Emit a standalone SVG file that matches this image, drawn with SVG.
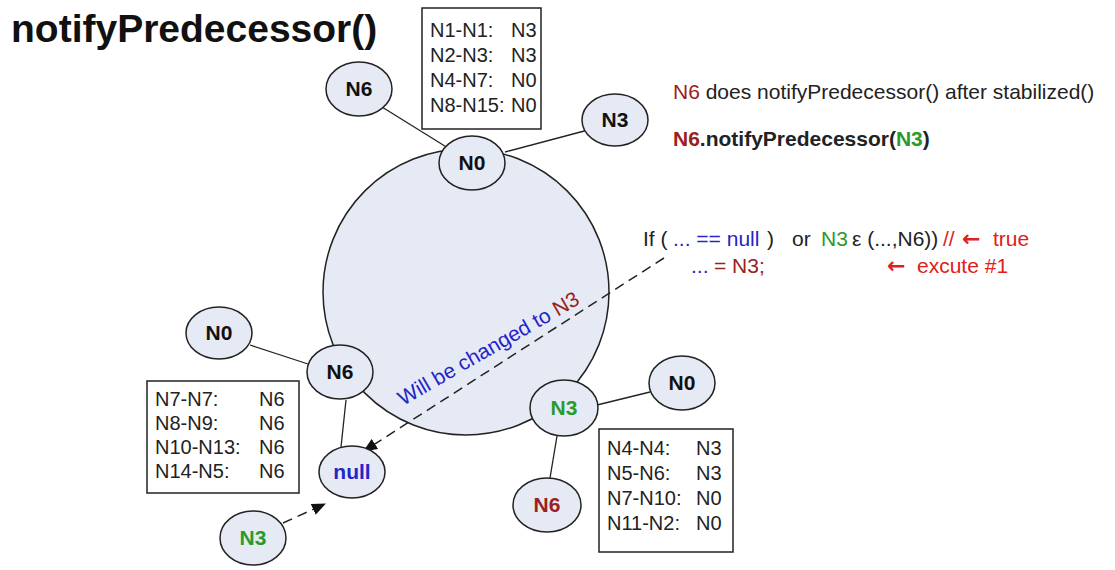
<svg xmlns="http://www.w3.org/2000/svg" width="1115" height="570" viewBox="0 0 1115 570">
<style>
.node{fill:#e6eaf4;stroke:#222;stroke-width:1.5}
.lbl{font-family:"Liberation Sans",Arial,sans-serif;font-weight:bold;font-size:21px;text-anchor:middle;fill:#111}
.t{font-family:"Liberation Sans",Arial,sans-serif;font-size:20px;fill:#222}
.s{font-family:"Liberation Sans",Arial,sans-serif;font-size:21px;fill:#222}
.arr{font-family:"DejaVu Sans",sans-serif;font-weight:bold;font-size:22px;fill:#e02020}
.box{fill:#fff;stroke:#222;stroke-width:1.5}
.ln{stroke:#222;stroke-width:1.3;fill:none}
.dash{stroke:#222;stroke-width:1.5;fill:none;stroke-dasharray:10 6}
.red{fill:#9b2020}.grn{fill:#2a9a2a}.blu{fill:#2424c8}.rr{fill:#e02020}
</style>
<defs>
<marker id="ah2" markerWidth="14" markerHeight="12" refX="13" refY="6" orient="auto" markerUnits="userSpaceOnUse" viewBox="0 0 14 12">
<path d="M0,0 L14,6 L0,12 z" fill="#111"/>
</marker>
</defs>
<rect width="1115" height="570" fill="#fff"/>
<text x="11" y="42" font-family="Liberation Sans,Arial,sans-serif" font-weight="bold" font-size="39" fill="#111">notifyPredecessor()</text>

<circle id="ring" cx="466" cy="292" r="143" class="node"/>

<g id="connectors">
<line class="ln" x1="382" y1="107" x2="448" y2="148"/>
<line class="ln" x1="505" y1="152" x2="588" y2="130"/>
<line class="ln" x1="250" y1="345" x2="308" y2="364"/>
<line class="ln" x1="346" y1="400" x2="341" y2="447"/>
<line class="ln" x1="597" y1="405" x2="650" y2="392"/>
<line class="ln" x1="557" y1="436" x2="550" y2="478"/>
<line class="dash" x1="664" y1="258" x2="364" y2="451" marker-end="url(#ah2)"/>
<line class="dash" x1="283" y1="523" x2="325" y2="504" marker-end="url(#ah2)"/>
</g>

<g id="n0-top"><ellipse class="node" cx="472" cy="163" rx="33" ry="27"/><text class="lbl" x="472" y="170">N0</text></g>
<g id="n6-top"><ellipse class="node" cx="359" cy="89" rx="33" ry="27"/><text class="lbl" x="359" y="96">N6</text></g>
<g id="n3-top"><ellipse class="node" cx="615" cy="120" rx="33" ry="26"/><text class="lbl" x="615" y="127">N3</text></g>
<g id="n6-left"><ellipse class="node" cx="340" cy="372" rx="33" ry="27"/><text class="lbl" x="340" y="379">N6</text></g>
<g id="n0-left"><ellipse class="node" cx="219" cy="333" rx="33" ry="26"/><text class="lbl" x="219" y="340">N0</text></g>
<g id="null"><ellipse class="node" cx="352" cy="472" rx="33" ry="26"/><text class="lbl blu" x="352" y="479">null</text></g>
<g id="n3-bl"><ellipse class="node" cx="253" cy="538" rx="33" ry="27"/><text class="lbl grn" x="253" y="545">N3</text></g>
<g id="n3-right"><ellipse class="node" cx="564" cy="408" rx="34" ry="28"/><text class="lbl grn" x="564" y="415">N3</text></g>
<g id="n0-right"><ellipse class="node" cx="682" cy="383" rx="33" ry="27"/><text class="lbl" x="682" y="390">N0</text></g>
<g id="n6-bottom"><ellipse class="node" cx="547" cy="505" rx="34" ry="27"/><text class="lbl red" x="547" y="512">N6</text></g>

<g id="table-top">
<rect class="box" x="422" y="8" width="119" height="121"/>
<text class="t" x="430" y="37">N1-N1:</text><text class="t" x="511" y="37">N3</text>
<text class="t" x="430" y="62">N2-N3:</text><text class="t" x="511" y="62">N3</text>
<text class="t" x="430" y="87">N4-N7:</text><text class="t" x="511" y="87">N0</text>
<text class="t" x="430" y="112">N8-N15:</text><text class="t" x="511" y="112">N0</text>
</g>
<g id="table-left">
<rect class="box" x="147" y="381" width="152" height="112"/>
<text class="t" x="155" y="406">N7-N7:</text><text class="t" x="259" y="406">N6</text>
<text class="t" x="155" y="430">N8-N9:</text><text class="t" x="259" y="430">N6</text>
<text class="t" x="155" y="454">N10-N13:</text><text class="t" x="259" y="454">N6</text>
<text class="t" x="155" y="478">N14-N5:</text><text class="t" x="259" y="478">N6</text>
</g>
<g id="table-right">
<rect class="box" x="599" y="429" width="134" height="123"/>
<text class="t" x="607" y="455">N4-N4:</text><text class="t" x="696" y="455">N3</text>
<text class="t" x="607" y="480">N5-N6:</text><text class="t" x="696" y="480">N3</text>
<text class="t" x="607" y="505">N7-N10:</text><text class="t" x="696" y="505">N0</text>
<text class="t" x="607" y="530">N11-N2:</text><text class="t" x="696" y="530">N0</text>
</g>

<text class="s" font-size="23" x="673" y="99"><tspan class="red">N6</tspan> does notifyPredecessor() after stabilized()</text>
<text class="s" font-size="23" x="673" y="146" font-weight="bold"><tspan class="red">N6</tspan>.notifyPredecessor(<tspan class="grn">N3</tspan>)</text>

<g id="condition">
<text class="s" x="643" y="246">If (</text>
<text class="s blu" x="673" y="246">... == null</text>
<text class="s" x="767" y="246">)</text>
<text class="s" x="792" y="246">or</text>
<text class="s grn" x="821" y="246">N3</text>
<text class="s" x="852" y="246">ε (...,N6))</text>
<text class="s rr" x="943" y="246">//</text>
<text class="arr" x="962" y="246">←</text>
<text class="s rr" x="993" y="246">true</text>
<text class="s blu" x="691" y="273">...</text>
<text class="s red" x="714" y="273">= N3;</text>
<text class="arr" x="887" y="273">←</text>
<text class="s rr" x="917" y="273">excute #1</text>
</g>
<text class="s blu" font-size="23.5" transform="translate(403,406) rotate(-30)">Will be changed to <tspan class="red">N3</tspan></text>
</svg>
